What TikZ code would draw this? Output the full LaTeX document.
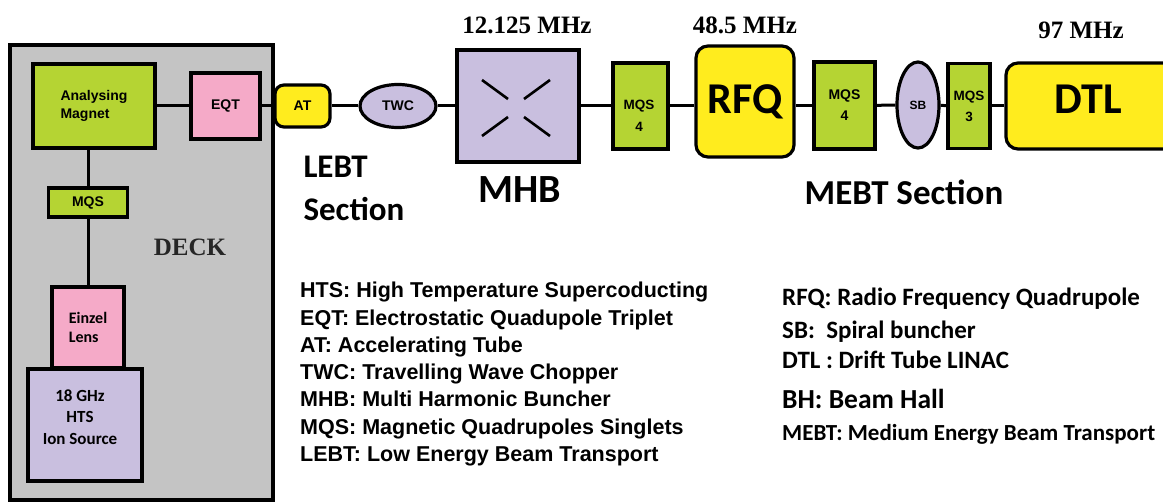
\documentclass[tikz,border=0pt]{standalone}
\usepackage{fontspec}
\setmainfont{Liberation Serif}
\newfontfamily\arialfont{Liberation Sans}
\newfontfamily\califont{Carlito}
\usetikzlibrary{shapes.geometric,calc}
\definecolor{deckgrey}{RGB}{196,196,196}
\definecolor{quadgreen}{RGB}{181,212,51}
\definecolor{lenspink}{RGB}{245,170,200}
\definecolor{srclilac}{RGB}{201,191,223}
\definecolor{accyellow}{RGB}{255,236,30}

\begin{document}
\begin{tikzpicture}[x=1pt,y=-1pt]
    \def\lw{3.2pt}
    \tikzset{
      part/.style={draw=black, line width=\lw, inner sep=0pt, align=center,
        font=\arialfont\bfseries\fontsize{14}{18}\selectfont},
      quadpart/.style={part, fill=quadgreen},
      lenspart/.style={part, fill=lenspink},
      lilacpart/.style={part, fill=srclilac},
      accpart/.style={part, fill=accyellow, rounded corners=9pt},
      wire/.style={line width=3pt},
      freq/.style={font=\bfseries\fontsize{25}{30}\selectfont},
      sectlabel/.style={font=\califont\bfseries\fontsize{33}{43}\selectfont},
      legend/.style={anchor=base west, inner sep=0pt, font=\califont\bfseries\fontsize{25}{30}\selectfont}
    }
    \useasboundingbox (0,0) rectangle (1163,503);
    \clip (0,0) rectangle (1163,503);
    % Deck
    \draw[fill=deckgrey, line width=\lw] (10,45) rectangle (273,500);
    \node[freq, text=black!85] (deck) at (190,247) {DECK};
    % Deck components
    \node[quadpart, align=left, minimum width=122, minimum height=84] (am) at (94,106) {Analysing\\Magnet};
    \node[lenspart, minimum width=69, minimum height=66] (eqt) at (225.5,106) {EQT};
    \node[quadpart, minimum width=79, minimum height=29] (mqsd) at (88,202.5) {MQS};
    \node[lenspart, align=left, minimum width=72, minimum height=81,
      font=\califont\bfseries\fontsize{16}{19}\selectfont] (einzel) at (88,327.5) {Einzel\\Lens};
    \node[lilacpart, minimum width=114, minimum height=112] (ionsrc) at (85,425) {};
    \node[align=center, font=\califont\bfseries\fontsize{17}{21.5}\selectfont] (ionsrctext) at (80,417) {18 GHz\\HTS\\Ion Source};
    % LEBT
    \node[accpart, minimum width=55, minimum height=42] (at) at (302.5,106) {AT};
    \node[lilacpart, ellipse, minimum width=76, minimum height=43] (twc) at (398,106) {TWC};
    \node[lilacpart, minimum width=122, minimum height=112] (mhb) at (518,106) {};
    \node[freq] (mhbfreq) at (527,25) {12.125 MHz};
    \node[sectlabel, font=\califont\bfseries\fontsize{40}{43}\selectfont] (mhblabel) at (520,190) {MHB};
    \node[sectlabel, align=left, anchor=west] (lebt) at (300,188) {LEBT\\Section};
    % MEBT
    \node[quadpart, minimum width=55, minimum height=86] (mqsa) at (640.5,106) {};
    \node[align=center, font=\arialfont\bfseries\fontsize{13.5}{22}\selectfont] (mqsatext) at (639,116) {MQS\\4};
    \node[accpart, rounded corners=12pt, minimum width=98, minimum height=111,
      font=\califont\bfseries\fontsize{44}{50}\selectfont] (rfq) at (745,101.5) {RFQ};
    \node[freq] (rfqfreq) at (745,25) {48.5 MHz};
    \node[quadpart, font=\arialfont\bfseries\fontsize{14}{21}\selectfont,
      minimum width=61, minimum height=87] (mqsb) at (844.5,105.5) {MQS\\4};
    \node[lilacpart, ellipse, font=\arialfont\bfseries\fontsize{12}{14}\selectfont,
      minimum width=42, minimum height=86] (sb) at (918,105) {SB};
    \node[quadpart, font=\arialfont\bfseries\fontsize{13.5}{21}\selectfont,
      minimum width=42, minimum height=85] (mqsc) at (969,106) {MQS\\3};
    \node[accpart, rounded corners=12pt, minimum width=190, minimum height=86] (dtl) at (1101,106) {};
    \node[font=\califont\bfseries\fontsize{44}{50}\selectfont] (dtllabel) at (1088,99) {DTL};
    \node[freq] (dtlfreq) at (1081,30) {97 MHz};
    \node[sectlabel, font=\califont\bfseries\fontsize{35}{43}\selectfont] (mebt) at (904,192) {MEBT Section};
    % Beam line
    \draw[wire] (am) -- (eqt);
    \draw[wire] (eqt) -- (at);
    \draw[wire] (at) -- (twc);
    \draw[wire] (twc) -- (mhb);
    \draw[wire] (mhb) -- (mqsa);
    \draw[wire] (mqsa.east) -- (mqsa.east -| rfq.west);
    \draw[wire] (mqsb.west -| rfq.east) -- (mqsb.west);
    \draw[wire] (mqsb) -- (sb);
    \draw[wire] (sb) -- (mqsc);
    \draw[wire] (mqsc) -- (dtl);
    \draw[wire] (mqsd.north) -- (mqsd.north |- am.south);
    \draw[wire] (mqsd.south) -- (einzel.north);
    % Buncher electrodes
    \foreach \sx/\sy in {-1/-1, 1/-1, -1/1, 1/1}
      \draw[line width=2.6pt] ($(mhb.center)+(-2,2)+(\sx*8,\sy*9)$) -- ($(mhb.center)+(-2,2)+(\sx*34,\sy*28)$);
    % Legends
    \node[anchor=north west, inner sep=0pt, align=left,
      font=\arialfont\bfseries\fontsize{21.5}{27.3}\selectfont] (lgleft) at (300,282) {HTS: High Temperature Supercoducting\\
      EQT: Electrostatic Quadupole Triplet\\
      AT: Accelerating Tube\\
      TWC: Travelling Wave Chopper\\
      MHB: Multi Harmonic Buncher\\
      MQS: Magnetic Quadrupoles Singlets\\
      LEBT: Low Energy Beam Transport};
    \node[legend] (lgrfq) at (782,305) {RFQ: Radio Frequency Quadrupole};
    \node[legend] (lgsb) at (782,338) {SB:\ \ Spiral buncher};
    \node[legend] (lgdtl) at (782,368) {DTL : Drift Tube LINAC};
    \node[legend, font=\califont\bfseries\fontsize{27.5}{30}\selectfont] (lgbh) at (782,408) {BH: Beam Hall};
    \node[legend, font=\califont\bfseries\fontsize{23}{30}\selectfont] (lgmebt) at (782,440) {MEBT: Medium Energy Beam Transport};
\end{tikzpicture}
\end{document}
